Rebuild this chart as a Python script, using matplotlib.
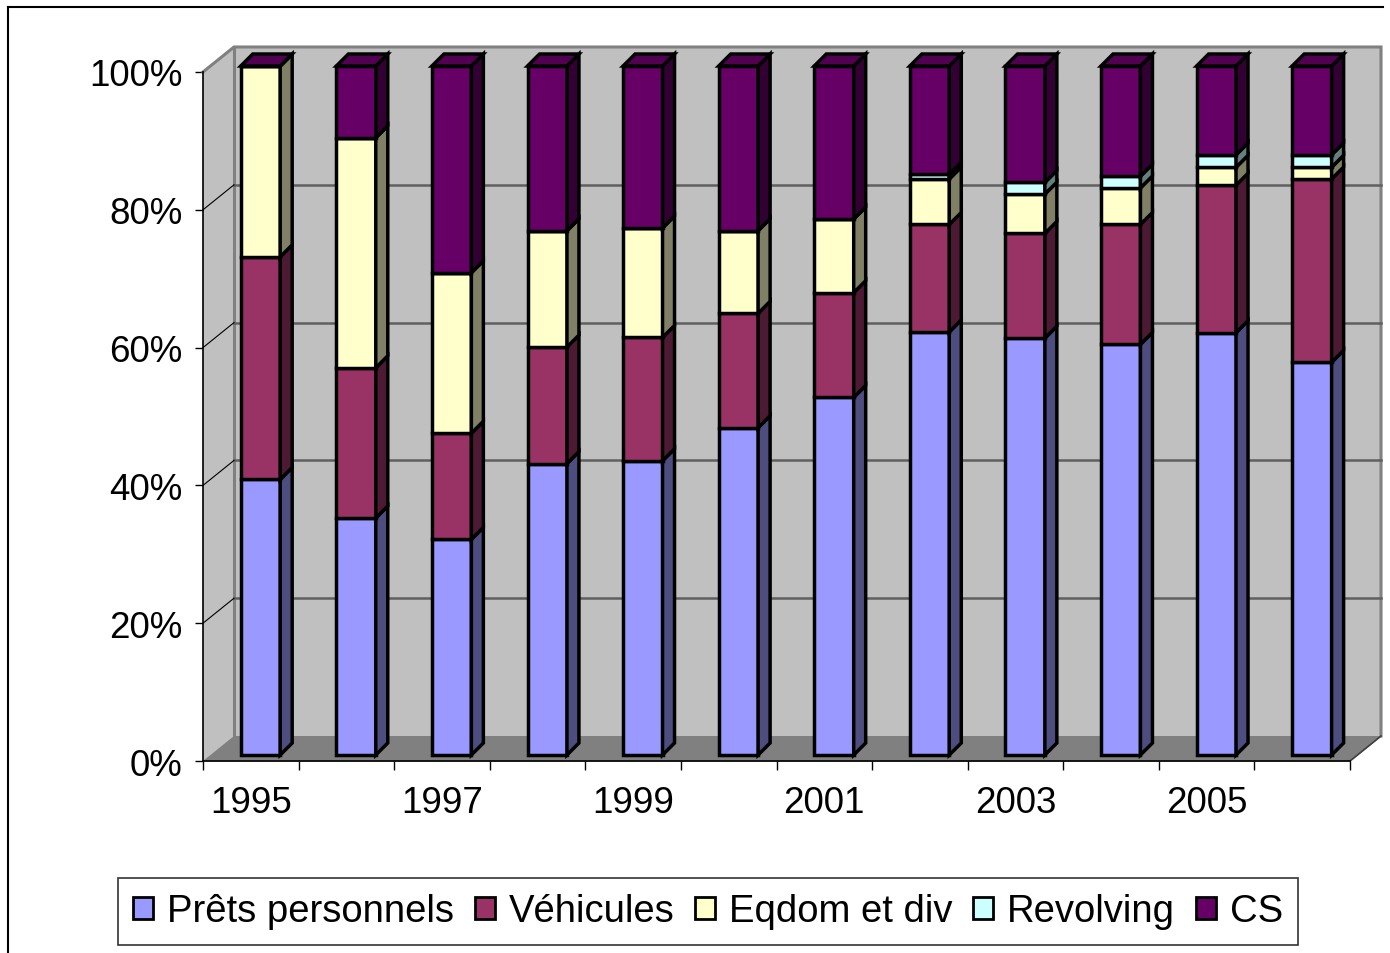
import matplotlib
matplotlib.use("Agg")
import matplotlib.pyplot as plt
from matplotlib.patches import Polygon, Patch
from matplotlib.lines import Line2D
import numpy as np

plt.rcParams['font.family'] = ['Liberation Sans', 'DejaVu Sans']

# ---------------- data ----------------
years = ["1995", "1996", "1997", "1998", "1999", "2000",
         "2001", "2002", "2003", "2004", "2005", "2006"]
series_names = ["Prêts personnels", "Véhicules", "Eqdom et div", "Revolving", "CS"]
prets_personnels = [40.0, 34.4, 31.3, 42.3, 42.7, 47.5, 51.9, 61.4, 60.5, 59.6, 61.3, 57.0]
vehicules        = [32.3, 21.8, 15.4, 16.9, 17.9, 16.6, 15.2, 15.6, 15.2, 17.4, 21.4, 26.6]
eqdom_et_div     = [27.7, 33.4, 23.3, 16.9, 15.9, 12.0, 10.7, 6.6, 5.7, 5.3, 2.6, 1.7]
revolving        = [0.0, 0.0, 0.0, 0.0, 0.0, 0.0, 0.0, 0.7, 1.7, 1.7, 1.8, 1.8]
cs               = [0.0, 10.4, 30.0, 23.9, 23.5, 23.9, 22.2, 15.7, 16.9, 16.0, 12.9, 12.9]
y_ticks = [0, 20, 40, 60, 80, 100]
y_tick_labels = ["0%", "20%", "40%", "60%", "80%", "100%"]

# ---------------- styles ----------------
front_colors = ["#9999FF", "#993366", "#FFFFCC", "#CCFFFF", "#660066"]
side_colors = ["#4D4D80", "#4D1A33", "#808066", "#668080", "#330033"]
top_colors = ["#7A7ACC", "#7A2952", "#CCCCA3", "#A3CCCC", "#520052"]

W, H = 1390, 954
fig = plt.figure(figsize=(W / 100, H / 100), dpi=100)
fig.patch.set_facecolor("white")

# axes placed so that the front plane maps to the chart's front axis
ax_l, ax_r, ax_b, ax_t = 203, 1350, 762, 73
ax = fig.add_axes([ax_l / W, 1 - ax_b / H, (ax_r - ax_l) / W, (ax_b - ax_t) / H])
ax.set_facecolor("none")
n = len(years)
ax.set_xlim(-0.5, n - 0.5)
ax.set_ylim(0, 100)

px_x = (ax_r - ax_l) / n        # px per category
px_y = (ax_b - ax_t) / 100.0    # px per percent

# wall depth offset
dxw = 31 / px_x
dyw = 25 / px_y
# bar geometry (in data units)
bar_off_x = 9.7 / px_x
bar_off_y = 6.0 / px_y
half_w = 19.7 / px_x
bdx = 12 / px_x
bdy = 12 / px_y

x0, x1 = -0.5, n - 0.5

# floor
ax.add_patch(Polygon([(x0, 0), (x1, 0), (x1 + dxw, dyw), (x0 + dxw, dyw)],
                     closed=True, facecolor="#808080", edgecolor="#808080",
                     lw=1, clip_on=False, zorder=1))
# left wall
ax.add_patch(Polygon([(x0, 0), (x0 + dxw, dyw), (x0 + dxw, 100 + dyw), (x0, 100)],
                     closed=True, facecolor="#C0C0C0", edgecolor="none",
                     clip_on=False, zorder=1))
# back wall
ax.add_patch(Polygon([(x0 + dxw, dyw), (x1 + dxw, dyw), (x1 + dxw, 100 + dyw),
                      (x0 + dxw, 100 + dyw)],
                     closed=True, facecolor="#C0C0C0", edgecolor="none",
                     clip_on=False, zorder=1))
# wall outline
ax.plot([x0, x0 + dxw, x1 + dxw, x1 + dxw], [100, 100 + dyw, 100 + dyw, dyw],
        color="#808080", lw=2.2, clip_on=False, zorder=2, solid_joinstyle="miter")
ax.plot([x0 + dxw, x0 + dxw], [dyw, 100 + dyw], color="#808080", lw=2.2,
        clip_on=False, zorder=2)
ax.plot([x1, x1 + dxw], [0, dyw], color="#404040", lw=1.2, clip_on=False, zorder=2)

# gridlines
for v in y_ticks[1:-1]:
    ax.plot([x0 + dxw, x1 + dxw], [v + dyw, v + dyw], color="#606060", lw=1.8,
            clip_on=False, zorder=2)
    ax.plot([x0, x0 + dxw], [v, v + dyw], color="black", lw=0.8,
            clip_on=False, zorder=2)

# bars
data = [prets_personnels, vehicules, eqdom_et_div, revolving, cs]
data = np.array(data, dtype=float)
data = data / data.sum(axis=0) * 100.0
edge_kw = dict(edgecolor="black", lw=2.5, clip_on=False, joinstyle="miter")
for i in range(n):
    xl = i + bar_off_x - half_w
    xr = i + bar_off_x + half_w
    base = 0.0
    for s in range(len(series_names)):
        h = data[s, i]
        y0 = base + bar_off_y
        y1 = base + h + bar_off_y
        ax.add_patch(Polygon([(xl, y0), (xr, y0), (xr, y1), (xl, y1)], closed=True,
                             facecolor=front_colors[s], zorder=5, **edge_kw))
        ax.add_patch(Polygon([(xr, y0), (xr + bdx, y0 + bdy), (xr + bdx, y1 + bdy),
                              (xr, y1)], closed=True,
                             facecolor=side_colors[s], zorder=5, **edge_kw))
        base += h
    ytop = base + bar_off_y
    ax.add_patch(Polygon([(xl, ytop), (xr, ytop), (xr + bdx, ytop + bdy),
                          (xl + bdx, ytop + bdy)], closed=True,
                         facecolor=top_colors[-1], zorder=6, **edge_kw))

# axes / ticks
for sp in ["top", "right"]:
    ax.spines[sp].set_visible(False)
for sp in ["left", "bottom"]:
    ax.spines[sp].set_color("black")
    ax.spines[sp].set_linewidth(1.2)
    ax.spines[sp].set_zorder(3)

ax.set_yticks(y_ticks)
ax.set_yticklabels(y_tick_labels, fontsize=26.5)
ax.tick_params(axis="y", direction="out", length=6, width=1.0, pad=8.5)

ax.set_xticks(np.arange(n + 1) - 0.5)
ax.set_xticklabels([""] * (n + 1))
ax.tick_params(axis="x", which="major", direction="out", length=6.5, width=1.0)
label_pos = [i for i in range(n) if i % 2 == 0]
ax.set_xticks(label_pos, minor=True)
ax.set_xticklabels([years[i] for i in label_pos], minor=True, fontsize=26.5)
ax.tick_params(axis="x", which="minor", length=0, pad=17)

# legend
handles = [Patch(facecolor=front_colors[s], edgecolor="black", lw=2.0)
           for s in range(len(series_names))]
leg = fig.legend(handles, series_names, loc="center",
                 bbox_to_anchor=(708 / W, 1 - 912.5 / H), ncol=5, fontsize=27.5,
                 frameon=True, fancybox=False, shadow=False,
                 handlelength=0.52, handleheight=0.52, handletextpad=0.36,
                 columnspacing=0.55, borderpad=0.4, borderaxespad=0)
leg.get_frame().set_edgecolor("black")
leg.get_frame().set_linewidth(1.2)

# outer chart border (top and left visible)
fig.add_artist(Line2D([8 / W, 1383 / W], [1 - 8 / H, 1 - 8 / H],
                      transform=fig.transFigure, color="black", lw=1.5))
fig.add_artist(Line2D([8 / W, 8 / W], [1 - 8 / H, 0], transform=fig.transFigure,
                      color="black", lw=1.5))

fig.savefig("out.png", dpi=100, facecolor="white")
